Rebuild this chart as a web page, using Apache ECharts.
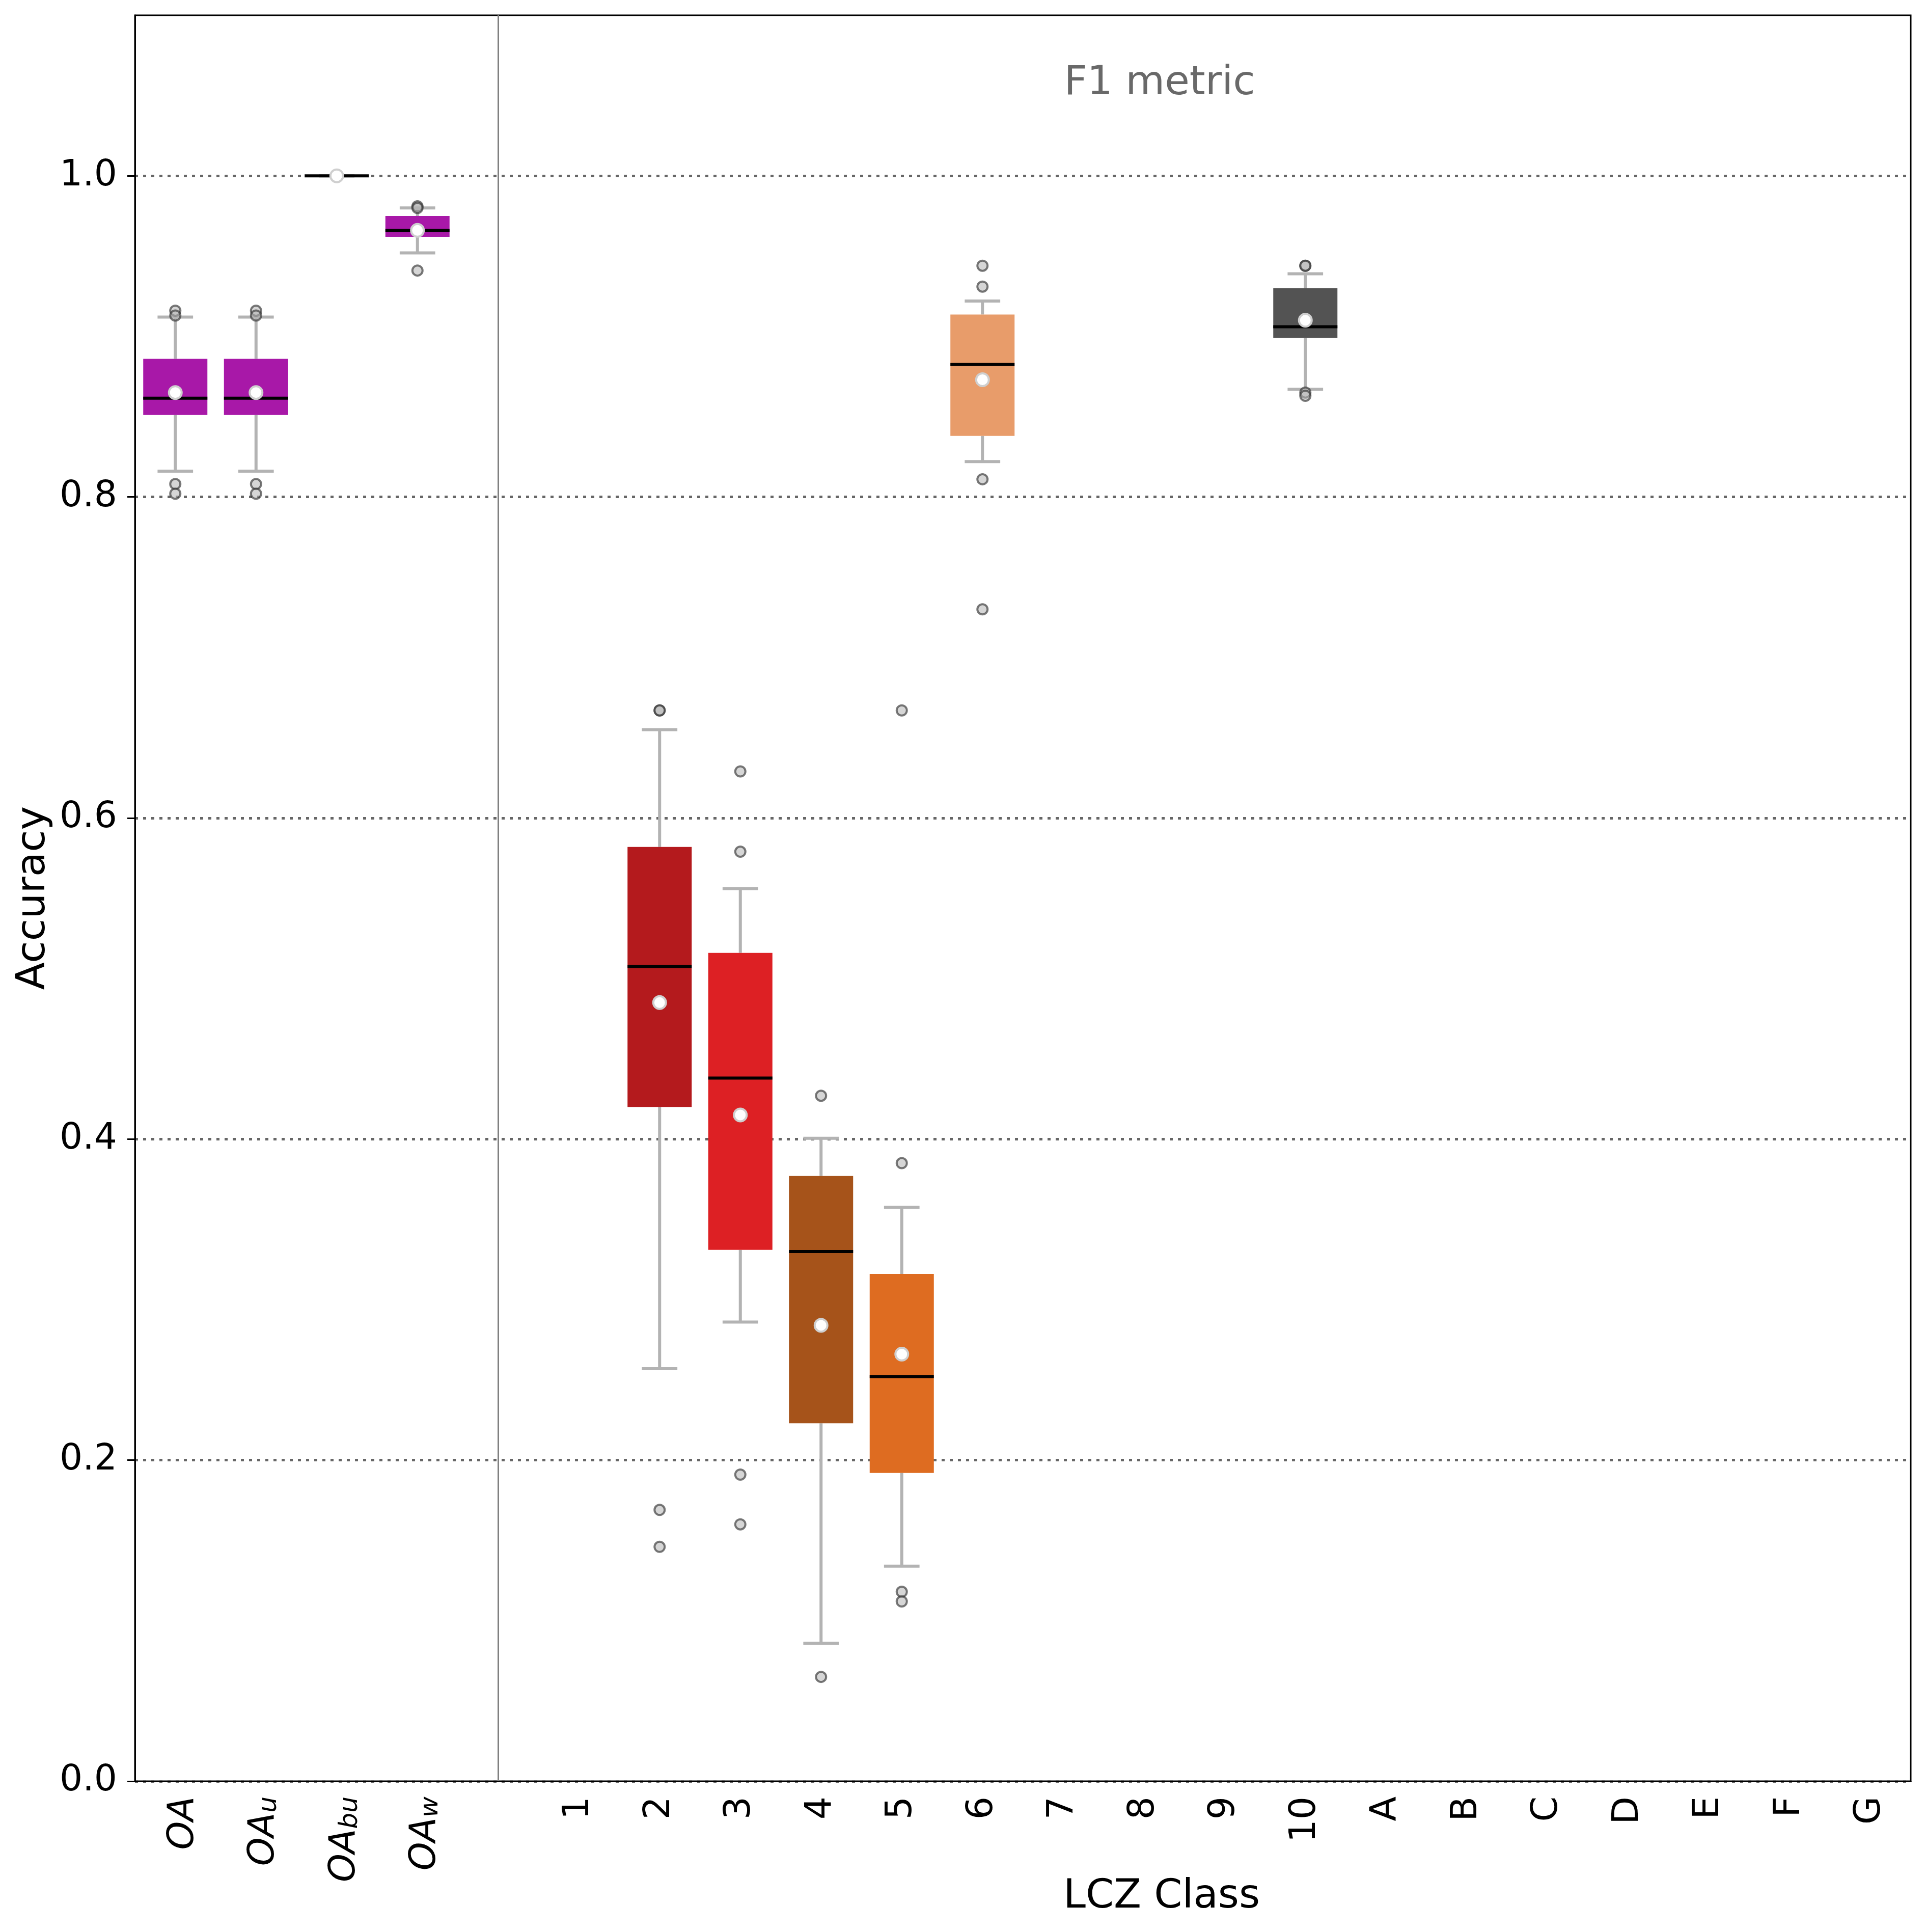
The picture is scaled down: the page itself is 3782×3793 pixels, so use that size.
<!DOCTYPE html>
<html>
<head>
<meta charset="utf-8">
<script src="https://cdn.jsdelivr.net/npm/echarts@6.0.0/dist/echarts.min.js"></script>
<style>
  html, body { margin: 0; padding: 0; background: #fff; }
  #chart { width: 3782px; height: 3793px; }
</style>
</head>
<body>
<div id="chart"></div>
<script>
  'use strict';

  // x axis: overall scores, a blank gap slot, then the LCZ classes
  var categories = ['OA', 'OA_u', 'OA_bu', 'OA_w', '', '1', '2', '3', '4', '5', '6', '7', '8', '9', '10', 'A', 'B', 'C', 'D', 'E', 'F', 'G'];
  var yTicks = [0, 0.2, 0.4, 0.6, 0.8, 1.0];

  // box statistics, one entry per drawn box
  var boxCategories = ['OA', 'OA_u', 'OA_bu', 'OA_w', '2', '3', '4', '5', '6', '10'];
  var whiskerLow  = [0.816, 0.816, 1.0, 0.952, 0.257, 0.286, 0.086, 0.134, 0.822, 0.867];
  var q1          = [0.851, 0.851, 1.0, 0.962, 0.420, 0.331, 0.223, 0.192, 0.838, 0.899];
  var median      = [0.8615, 0.8615, 1.0, 0.966, 0.5075, 0.438, 0.330, 0.252, 0.8825, 0.906];
  var q3          = [0.886, 0.886, 1.0, 0.975, 0.582, 0.516, 0.377, 0.316, 0.9136, 0.930];
  var whiskerHigh = [0.912, 0.912, 1.0, 0.980, 0.655, 0.556, 0.4005, 0.3575, 0.922, 0.939];
  var means       = [0.865, 0.865, 1.0, 0.966, 0.485, 0.415, 0.284, 0.266, 0.873, 0.910];

  // outliers (flier points)
  var outlierCategory = ['OA', 'OA', 'OA', 'OA', 'OA_u', 'OA_u', 'OA_u', 'OA_u', 'OA_w', 'OA_w', 'OA_w',
    '2', '2', '2', '2', '3', '3', '3', '3', '4', '4', '5', '5', '5', '5', '6', '6', '6', '6', '10', '10', '10', '10'];
  var outlierValue = [0.916, 0.913, 0.808, 0.802, 0.916, 0.913, 0.808, 0.802, 0.981, 0.980, 0.941,
    0.667, 0.667, 0.169, 0.146, 0.629, 0.579, 0.191, 0.160, 0.427, 0.065, 0.667, 0.385, 0.118, 0.112,
    0.944, 0.931, 0.811, 0.730, 0.944, 0.944, 0.865, 0.863];

  var boxColors = ['#a818a8', '#a818a8', '#a818a8', '#a818a8', '#b41a1d', '#dd2024', '#a6531a', '#de6c21', '#e89c6a', '#535353'];
  var FONT = 'DejaVu Sans';

  var boxData = boxCategories.map(function (c, i) {
    return [c, whiskerLow[i], q1[i], median[i], q3[i], whiskerHigh[i]];
  });
  var meanData = boxCategories.map(function (c, i) { return [c, means[i]]; });
  var outlierData = outlierCategory.map(function (c, i) { return [c, outlierValue[i]]; });

  function renderBox(params, api) {
    var x = api.value(0);
    var lo = api.coord([x, api.value(1)]);
    var b1 = api.coord([x, api.value(2)]);
    var md = api.coord([x, api.value(3)]);
    var b3 = api.coord([x, api.value(4)]);
    var hi = api.coord([x, api.value(5)]);
    var band = api.size([1, 0])[0];
    var bw = band * 0.795, cw = band * 0.44;
    var cx = lo[0];
    var wh = { stroke: '#b3b3b3', lineWidth: 6 };
    return {
      type: 'group',
      children: [
        { type: 'line', shape: { x1: cx, y1: lo[1], x2: cx, y2: b1[1] }, style: wh },
        { type: 'line', shape: { x1: cx, y1: b3[1], x2: cx, y2: hi[1] }, style: wh },
        { type: 'line', shape: { x1: cx - cw / 2, y1: lo[1], x2: cx + cw / 2, y2: lo[1] }, style: wh },
        { type: 'line', shape: { x1: cx - cw / 2, y1: hi[1], x2: cx + cw / 2, y2: hi[1] }, style: wh },
        { type: 'rect', shape: { x: cx - bw / 2, y: b3[1], width: bw, height: b1[1] - b3[1] },
          style: { fill: boxColors[params.dataIndex] } },
        { type: 'line', shape: { x1: cx - bw / 2, y1: md[1], x2: cx + bw / 2, y2: md[1] },
          style: { stroke: '#000', lineWidth: 6 } }
      ]
    };
  }

  var chart = echarts.init(document.getElementById('chart'));
  chart.setOption({
    animation: false,
    backgroundColor: '#fff',
    textStyle: { fontFamily: FONT },
    grid: {
      left: 265, right: 30, top: 30, bottom: 296,
      show: true, borderColor: '#000', borderWidth: 3
    },
    xAxis: {
      type: 'category',
      data: categories,
      boundaryGap: true,
      axisLine: { lineStyle: { color: '#000', width: 3 } },
      axisTick: { alignWithLabel: true, interval: 0, length: 14, lineStyle: { color: '#000', width: 3 } },
      axisLabel: {
        interval: 0, rotate: 90, margin: 30,
        fontSize: 71, color: '#000', fontFamily: FONT,
        formatter: function (v) {
          var p = v.split('_');
          if (p[0] === 'OA') {
            return p.length > 1 ? '{i|OA}{s|' + p[1] + '}' : '{i|OA}';
          }
          return v;
        },
        rich: {
          i: { fontSize: 71, fontStyle: 'italic', fontFamily: FONT, color: '#000', lineHeight: 103, verticalAlign: 'bottom' },
          s: { fontSize: 50, fontStyle: 'italic', fontFamily: FONT, color: '#000', lineHeight: 50, verticalAlign: 'bottom' }
        }
      },
      splitLine: { show: false }
    },
    yAxis: {
      type: 'value',
      min: 0, max: 1.1, interval: 0.2,
      axisLine: { show: true, lineStyle: { color: '#000', width: 3 } },
      axisTick: { show: true, length: 15, lineStyle: { color: '#000', width: 3 } },
      axisLabel: {
        fontSize: 71, color: '#000', fontFamily: FONT, margin: 35, showMaxLabel: false,
        formatter: function (v) { return yTicks.indexOf(Math.round(v * 10) / 10) >= 0 ? v.toFixed(1) : ''; }
      },
      splitLine: { show: true, showMaxLine: false, lineStyle: { color: '#666', width: 5, type: [6, 10] } }
    },
    graphic: [
      { type: 'text', x: 2277, y: 164, style: { text: 'F1 metric', fill: '#696969', font: '79px "DejaVu Sans"', textAlign: 'center', textVerticalAlign: 'middle' } },
      { type: 'text', x: 2281, y: 3724, style: { text: 'LCZ Class', fill: '#000', font: '79px "DejaVu Sans"', textAlign: 'center', textVerticalAlign: 'middle' } },
      { type: 'text', x: 66, y: 1763, rotation: Math.PI / 2, style: { text: 'Accuracy', fill: '#000', font: '79px "DejaVu Sans"', textAlign: 'center', textVerticalAlign: 'middle' } }
    ],
    series: [
      {
        type: 'custom',
        name: 'boxes',
        renderItem: renderBox,
        encode: { x: 0, y: [1, 2, 3, 4, 5] },
        data: boxData,
        z: 2,
        markLine: {
          silent: true,
          symbol: 'none',
          label: { show: false },
          lineStyle: { color: '#808080', width: 3, type: 'solid' },
          data: [{ xAxis: 4 }]
        }
      },
      {
        type: 'scatter',
        name: 'outliers',
        data: outlierData,
        symbol: 'circle',
        symbolSize: 20,
        itemStyle: { color: 'rgba(180,180,180,0.55)', borderColor: 'rgba(50,50,50,0.65)', borderWidth: 4, opacity: 1 },
        z: 3
      },
      {
        type: 'scatter',
        name: 'mean',
        data: meanData,
        symbol: 'circle',
        symbolSize: 25,
        itemStyle: { color: '#ffffff', borderColor: '#cfcfcf', borderWidth: 4, opacity: 1 },
        z: 4
      }
    ]
  });
</script>
</body>
</html>
